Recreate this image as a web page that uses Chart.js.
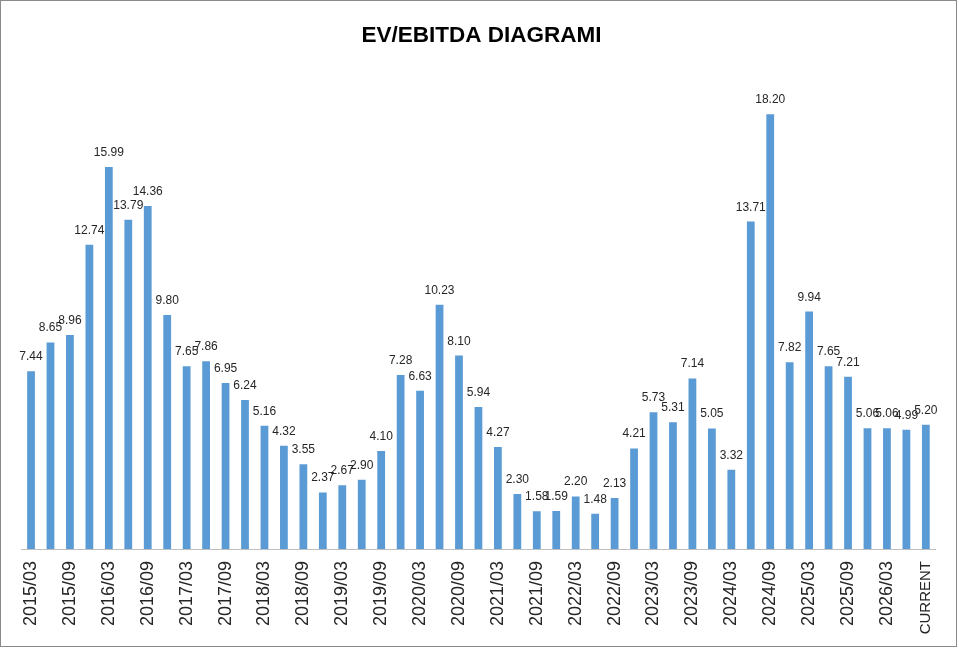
<!DOCTYPE html>
<html>
<head>
<meta charset="utf-8">
<script src="https://cdn.jsdelivr.net/npm/chart.js@4/dist/chart.umd.min.js"></script>
<style>
  html, body { margin: 0; padding: 0; background: #fff; }
  #wrap { width: 955px; height: 645px; border: 1px solid #8a8a8a; position: relative; }
</style>
</head>
<body>
<div id="wrap"><canvas id="chart"></canvas></div>
<script>
// quarterly periods, only every other one is printed on the axis
const periods = [
  '2015/03','2015/06','2015/09','2015/12','2016/03','2016/06','2016/09','2016/12',
  '2017/03','2017/06','2017/09','2017/12','2018/03','2018/06','2018/09','2018/12',
  '2019/03','2019/06','2019/09','2019/12','2020/03','2020/06','2020/09','2020/12',
  '2021/03','2021/06','2021/09','2021/12','2022/03','2022/06','2022/09','2022/12',
  '2023/03','2023/06','2023/09','2023/12','2024/03','2024/06','2024/09','2024/12',
  '2025/03','2025/06','2025/09','2025/12','2026/03','2026/06','CURRENT'
];

const evEbitda = [
  7.44, 8.65, 8.96, 12.74, 15.99, 13.79, 14.36, 9.80,
  7.65, 7.86, 6.95, 6.24, 5.16, 4.32, 3.55, 2.37,
  2.67, 2.90, 4.10, 7.28, 6.63, 10.23, 8.10, 5.94,
  4.27, 2.30, 1.58, 1.59, 2.20, 1.48, 2.13, 4.21,
  5.73, 5.31, 7.14, 5.05, 3.32, 13.71, 18.20, 7.82,
  9.94, 7.65, 7.21, 5.06, 5.06, 4.99, 5.20
];

const titleText = 'EV/EBITDA DIAGRAMI';
const fontFamily = '"Liberation Sans", Arial, sans-serif';

// value labels above each bar (no datalabels plugin available)
const barLabels = {
  id: 'barLabels',
  afterDatasetsDraw(chart) {
    const ctx = chart.ctx;
    const meta = chart.getDatasetMeta(0);
    ctx.save();
    ctx.font = '12px ' + fontFamily;
    ctx.fillStyle = '#262626';
    ctx.textAlign = 'center';
    ctx.textBaseline = 'alphabetic';
    meta.data.forEach((bar, i) => {
      ctx.fillText(evEbitda[i].toFixed(2), bar.x, bar.y - 11);
    });
    ctx.restore();
  }
};

new Chart(document.getElementById('chart'), {
  type: 'bar',
  data: {
    labels: periods,
    datasets: [{
      label: 'EV/EBITDA',
      data: evEbitda,
      backgroundColor: '#5B9BD5',
      borderWidth: 0,
      barPercentage: 0.8,
      categoryPercentage: 0.5
    }]
  },
  options: {
    responsive: true,
    maintainAspectRatio: false,
    animation: false,
    layout: { padding: { left: 20.3, right: 14.2, top: 0, bottom: 0 } },
    scales: {
      x: {
        grid: { display: false, drawTicks: false },
        border: { display: true, color: '#bfbfbf', width: 1 },
        afterFit: scale => { scale.height = 97; },
        ticks: {
          autoSkip: false,
          maxRotation: 90,
          minRotation: 90,
          padding: 12,
          color: '#262626',
          // the last label is all caps, keep it about as long as Excel draws it
          font: c => ({ family: fontFamily, size: c.index === periods.length - 1 ? 15 : 18 }),
          callback: function (val, i) {
            return i % 2 === 0 ? this.getLabelForValue(val) : '';
          }
        }
      },
      y: {
        display: false,
        min: 0,
        max: 20
      }
    },
    plugins: {
      legend: { display: false },
      tooltip: { enabled: false },
      title: {
        display: true,
        text: titleText,
        color: '#000',
        font: { family: fontFamily, size: 22.5, weight: 'bold' },
        padding: { top: 21, bottom: 22.3 }
      }
    }
  },
  plugins: [barLabels]
});
</script>
</body>
</html>
